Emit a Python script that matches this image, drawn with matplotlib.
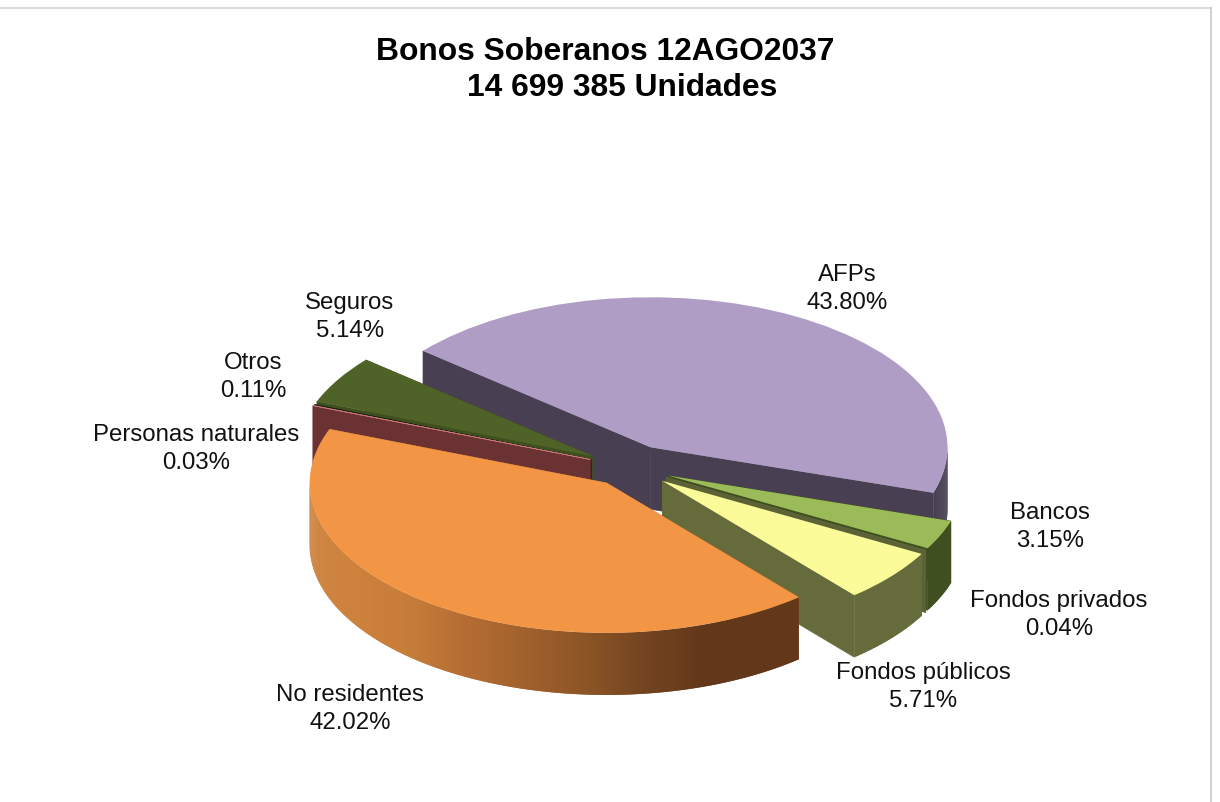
import numpy as np
import matplotlib
matplotlib.use("Agg")
import matplotlib.pyplot as plt
from matplotlib.patches import Polygon
from matplotlib.lines import Line2D
from matplotlib.colors import to_rgb

# ---- data ----
categories = ["AFPs", "Bancos", "Fondos privados", "Fondos públicos",
              "No residentes", "Personas naturales", "Otros", "Seguros"]
values = [43.80, 3.15, 0.04, 5.71, 42.02, 0.03, 0.11, 5.14]
title_lines = ["Bonos Soberanos 12AGO2037", "14 699 385 Unidades"]

# ---- style ----
explode = [0.15, 0.143, 0.143, 0.145, 0.13, 0.14, 0.137, 0.14]
top_colors = ["#AF9DC5", "#9BBB59", "#6B7040", "#FBFB99", "#F29545", "#C8757A", "#16230A", "#4F6228"]
wall_colors = ["#483F52", "#3F4F20", "#5C6236", "#666B3B", "#C87B37", "#6B3233", "#16230A", "#3F4F20"]
label_px = [(847, 289), (1050, 527), (1059, 615), (923, 687),
            (350, 709), (196, 449), (253, 377), (350, 317)]
draw_order = [0, 7, 6, 5, 1, 2, 3, 4]

W, H = 1220, 802
CX, CY, RX, RY, DEPTH = 629, 467, 297, 150, 62

plt.rcParams["font.family"] = ["Liberation Sans", "DejaVu Sans"]
fig = plt.figure(figsize=(W / 100, H / 100), dpi=100, facecolor="white")
ax = fig.add_axes([0, 0, 1, 1])
wedges, _ = ax.pie(values, explode=explode, colors=top_colors, startangle=140,
                   counterclock=False, radius=1, wedgeprops={"linewidth": 0})
ax.set_aspect("auto")
ax.set_xlim((0 - CX) / RX, (W - CX) / RX)
ax.set_ylim((CY - H) / RY, CY / RY)
d = DEPTH / RY


def lerp(a, b, t):
    return tuple(np.array(to_rgb(a)) * (1 - t) + np.array(to_rgb(b)) * t)


def orange_side(x):
    # shade of the No residentes wall, from its left rim to its right rim
    stops = [(-1.0, "#D0843E"), (-0.69, "#C87E3A"), (-0.47, "#B56C33"), (-0.08, "#8D5526"),
             (0.11, "#754520"), (0.32, "#63381A"), (1.0, "#63381A")]
    for (x0, c0), (x1, c1) in zip(stops, stops[1:]):
        if x <= x1:
            return lerp(c0, c1, (x - x0) / (x1 - x0))
    return to_rgb(stops[-1][1])


z = 1
for i in draw_order:
    w = wedges[i]
    (x0, y0) = w.center
    t1, t2 = np.radians(w.theta1), np.radians(w.theta2)
    for t in (t1, t2):
        ex, ey = x0 + np.cos(t), y0 + np.sin(t)
        ax.add_patch(Polygon([(x0, y0), (ex, ey), (ex, ey - d), (x0, y0 - d)],
                             closed=True, facecolor=wall_colors[i], edgecolor=wall_colors[i],
                             linewidth=0.4, zorder=z))
    n = max(int(np.degrees(t2 - t1) * 3), 2)
    ts = np.linspace(t1, t2, n + 1)
    step = ts[1] - ts[0]
    for a in ts[:-1]:
        if np.sin(a + step / 2) > 0.02:
            continue
        c = orange_side(np.cos(a + step / 2)) if categories[i] == "No residentes" else wall_colors[i]
        # each strip runs on under the next one, so no seams show between strips
        arc = np.linspace(a, min(a + 2 * step, t2), 3)
        xs, ys = x0 + np.cos(arc), y0 + np.sin(arc)
        pts = list(zip(xs, ys)) + list(zip(xs[::-1], ys[::-1] - d))
        ax.add_patch(Polygon(pts, closed=True, facecolor=c, edgecolor="none", zorder=z))
    w.set_zorder(z + 1)
    if categories[i] in ("Personas naturales", "Otros"):
        w.set_edgecolor(top_colors[i])
        w.set_linewidth(0.5)
    z += 2

for name, v, (px, py) in zip(categories, values, label_px):
    fig.text(px / W, 1 - py / H, f"{name}\n{v:.2f}%", ha="center", va="center",
             fontsize=17.25, color="#111111", linespacing=1.35)

fig.text(605 / W, 1 - 52 / H, title_lines[0], ha="center", va="center", fontsize=22.85,
         fontweight="bold", color="black")
fig.text(622 / W, 1 - 88 / H, title_lines[1], ha="center", va="center", fontsize=22.85,
         fontweight="bold", color="black")

fig.add_artist(Line2D([0, 1211 / W], [1 - 8 / H, 1 - 8 / H], color="#DDDDDD", lw=1.5))
fig.add_artist(Line2D([1211 / W, 1211 / W], [1 - 8 / H, 0], color="#C8C8C8", lw=1.2))

fig.savefig("out.png", dpi=100, facecolor="white")
